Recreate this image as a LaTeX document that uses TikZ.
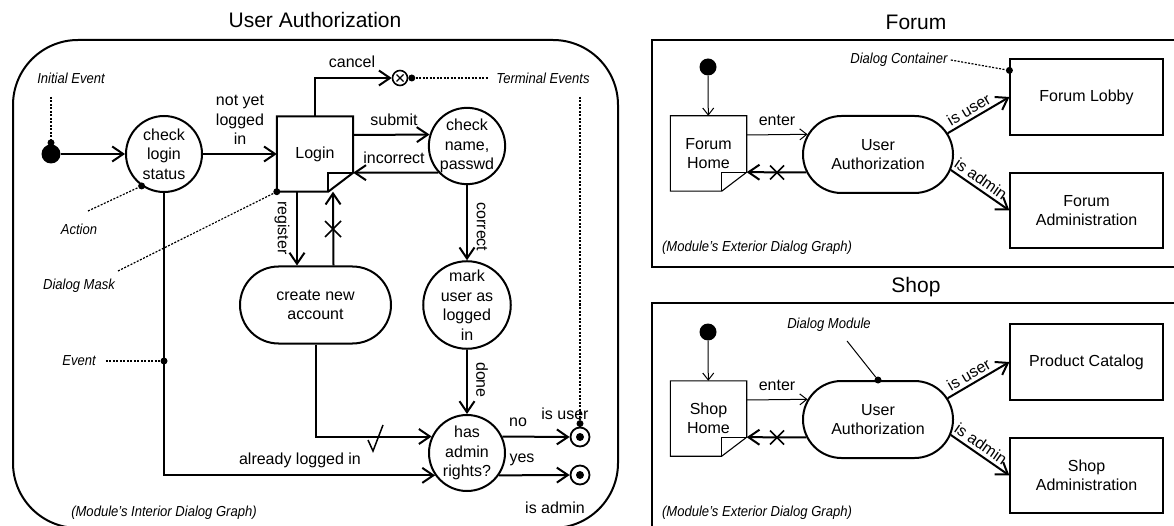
\documentclass[tikz,border=0pt]{standalone}
\usepackage{fontspec}
\usepackage{graphicx}
\setmainfont{Liberation Sans}
\usetikzlibrary{arrows.meta,shapes.misc,calc}
\newcommand\drawmask[2]{%
  \draw[line width=#1] (#2.north west) -- (#2.north east) -- ([yshift=19pt]#2.south east) -- ([xshift=-25pt]#2.south east) -- (#2.south west) -- cycle;
  \draw[line width=#1] ([xshift=-25pt]#2.south east) -- ([xshift=-25pt,yshift=19pt]#2.south east) -- ([yshift=19pt]#2.south east);}
\newcommand\xcross[2]{\draw[line width=1.5pt] ([shift={(-#2,-#2)}]#1) -- ([shift={(#2,#2)}]#1) ([shift={(-#2,#2)}]#1) -- ([shift={(#2,-#2)}]#1);}
\newcommand\nar[1]{\scalebox{0.9}[1]{#1}}
\begin{document}
\begin{tikzpicture}[x=1pt,y=-1pt,
  base/.style={font=\fontsize{16}{19.5}\selectfont, align=center},
  state/.style={circle, draw, line width=2pt, minimum size=76pt, inner sep=0pt, base},
  stadium/.style={rounded rectangle, draw, line width=2pt, minimum width=#1, minimum height=77pt, inner sep=0pt, base},
  maskbox/.style={minimum width=76pt, minimum height=75pt, inner sep=0pt, base},
  box/.style={draw, line width=1.2pt, minimum width=153pt, minimum height=76pt, inner sep=0pt, base},
  initdot/.style={circle, fill, minimum size=#1, inner sep=0pt},
  initdot/.default=19pt,
  adot/.style={circle, fill, minimum size=7pt, inner sep=0pt},
  endst/.style={circle, draw, line width=1.8pt, minimum size=19pt, inner sep=0pt,
    path picture={\fill (path picture bounding box.center) circle[radius=4pt];}},
  xst/.style={circle, draw, line width=1.6pt, minimum size=15pt, inner sep=0pt,
    path picture={\draw[line width=1.3pt] ([shift={(-3.5pt,-3.5pt)}]path picture bounding box.center) -- ([shift={(3.5pt,3.5pt)}]path picture bounding box.center) ([shift={(-3.5pt,3.5pt)}]path picture bounding box.center) -- ([shift={(3.5pt,-3.5pt)}]path picture bounding box.center);}},
  lbl/.style={font=\fontsize{14.5}{16}\selectfont\itshape, inner sep=0pt},
  elbl/.style={font=\fontsize{16}{19.5}\selectfont, inner sep=0pt, align=center},
  ttl/.style={font=\fontsize{21}{25}\selectfont, inner sep=0pt},
  arr/.style={line width=2pt, -{Straight Barb[length=11pt,width=15pt]}},
  tarr/.style={line width=1pt, -{Straight Barb[length=7pt,width=11pt]}},
  annot/.style={line width=1.2pt, dash pattern=on 2pt off 1.5pt},
]
\useasboundingbox (0,0) rectangle (1174,526);
% ================= LEFT: User Authorization =================
\node[ttl] (t1) at (315,20) {User Authorization};
\node[draw, line width=2pt, rounded corners=65pt, minimum width=605pt, minimum height=488pt, inner sep=0pt] (uac) at (315.5,284) {};

\node[initdot] (init) at (51,154) {};
\node[state] (cls) at (164,154) {check\\login\\status};
\node[maskbox] (login) at (315,154) {Login};
\drawmask{2pt}{login}
\node[state] (cn) at (467,146) {check\\name,\\passwd};
\node[stadium=151pt] (cna) at (315.5,305) {create new\\account};
\node[state] (mu) at (467,305) {mark\\user as\\logged\\in};
\node[state] (har) at (467,453) {has\\admin\\rights?};
\node[endst] (eu) at (580,437) {};
\node[endst] (ea) at (580,475) {};
\node[xst] (xc) at (400,78) {};

\draw[arr] (init) -- (cls);
\draw[arr] (cls) -- (login);
\node[elbl] at (240,120) {not yet\\logged\\in};
\draw[arr] (login.north) |- (xc.west);
\node[elbl] at (352,62) {cancel};
\draw[arr] ([yshift=19pt]login.east) -- (cn.163);
\node[elbl] at (394,120) {submit};
\draw[arr] (cn.223) -- ([yshift=19pt]login.south east);
\node[elbl] at (394,158) {incorrect};
\draw[arr] ([xshift=-18pt]login.south) -- ([xshift=-18pt]login.south |- cna.north);
\node[elbl, rotate=-90] at (282,228) {register};
\draw[arr] ([xshift=18pt]cna.north) -- ([xshift=18pt]login.south);
\coordinate (x1) at (333,229);
\xcross{x1}{8pt}
\draw[arr] (cn.south) -- (mu.north);
\node[elbl, rotate=-90] at (482,227) {correct};
\draw[arr] (mu.south) -- (har.north);
\node[elbl, rotate=-90] at (482,380) {done};
\draw[arr] (cna.south) |- (har.155);
\draw[line width=1.5pt] (368,440) -- (373,451) -- (383,425);
\draw[arr] (cls.south) |- (har.215);
\node[elbl] at (300,460) {already logged in};
\draw[arr] (har.25) -- (eu.west);
\node[elbl] at (518,422) {no};
\draw[arr] (har.-35) -- (ea.west);
\node[elbl] at (522,460) {yes};
\node[elbl] at (565,414) {is user};
\node[elbl] at (555,508) {is admin};

% annotations
\node[lbl] (iel) at (71,78) {\nar{Initial Event}};
\coordinate (ies) at (51,97);
\node[adot] (ied) at ([yshift=1.5pt]init.north) {};
\draw[annot] (ies) -- (ied);
\node[lbl] (actl) at (79,229) {\nar{Action}};
\coordinate (acs) at (88,211);
\node[adot] (acd) at (cls.235.5) {};
\draw[annot] (acs) -- (acd);
\node[lbl] (dml) at (79,286) {\nar{Dialog Mask}};
\coordinate (dms) at (118,271);
\node[adot] (dmd) at (login.south west) {};
\draw[annot] (dms) -- (dmd);
\node[lbl] (evl) at (79,361) {\nar{Event}};
\node[adot] (evd) at (cls.south |- 0,361) {};
\draw[annot] ([xshift=10pt]evl.east) -- (evd);
\node[lbl] (tel) at (543,78) {\nar{Terminal Events}};
\node[adot] (ted) at ([xshift=3.5pt]xc.east) {};
\draw[annot] (ted) -- ([xshift=-8pt]tel.west);
\coordinate (tes) at (580,97);
\node[adot] (eud) at ([yshift=3pt]eu.north) {};
\draw[annot] (tes) -- (eud);
\node[lbl] at (164,513) {\nar{(Module’s Interior Dialog Graph)}};

% ================= RIGHT TOP: Forum =================
\node[ttl] (t2) at (916,22) {Forum};
\draw[line width=1.3pt] (652,40) rectangle (1190,267);
\node[initdot=17pt] (fi) at (708,67) {};
\node[maskbox] (fh) at (708.5,153.5) {Forum\\Home};
\drawmask{1.1pt}{fh}
\node[stadium=150pt] (ua) at (878,154.5) {User\\Authorization};
\node[box] (fl) at (1086.5,97) {Forum Lobby};
\node[box, minimum height=75pt] (fa) at (1086.5,210.5) {Forum\\Administration};
\draw[tarr] (fi) -- (fh);
\draw[tarr] ([yshift=18.5pt]fh.east) -- (ua.164.4);
\node[elbl] at (777,120) {enter};
\draw[arr] (ua.194.3) -- ([yshift=19pt]fh.south east);
\coordinate (x2) at (777,172.5);
\xcross{x2}{7pt}
\draw[arr] (ua.17) -- node[elbl, pos=0.42, above=3pt, sloped] {is user} (fl.west);
\draw[arr] (ua.-12) -- node[elbl, pos=0.42, above=3pt, sloped] {is admin} (fa.west);
\node[lbl] (dcl) at (899,60) {\nar{Dialog Container}};
\node[adot] (dcd) at ([yshift=-12pt]fl.north west) {};
\draw[annot] ([xshift=3pt]dcl.east) -- (dcd);
\node[lbl] at (757,248) {\nar{(Module’s Exterior Dialog Graph)}};

% ================= RIGHT BOTTOM: Shop =================
\node[ttl] (t3) at (916,287) {Shop};
\draw[line width=1.3pt] (652,303) rectangle (1190,540);
\node[initdot=17pt] (si) at (708,332) {};
\node[maskbox] (sh) at (708.5,418.5) {Shop\\Home};
\drawmask{1.1pt}{sh}
\node[stadium=150pt] (ua2) at (878,419.5) {User\\Authorization};
\node[box] (pc) at (1086.5,362) {Product Catalog};
\node[box, minimum height=75pt] (sa) at (1086.5,475.5) {Shop\\Administration};
\draw[tarr] (si) -- (sh);
\draw[tarr] ([yshift=18.5pt]sh.east) -- (ua2.164.4);
\node[elbl] at (777,385) {enter};
\draw[arr] (ua2.194.3) -- ([yshift=19pt]sh.south east);
\coordinate (x3) at (777,437.5);
\xcross{x3}{7pt}
\draw[arr] (ua2.17) -- node[elbl, pos=0.42, above=3pt, sloped] {is user} (pc.west);
\draw[arr] (ua2.-12) -- node[elbl, pos=0.42, above=3pt, sloped] {is admin} (sa.west);
\node[lbl] (dmod) at (829,325) {\nar{Dialog Module}};
\node[adot] (dmodd) at (ua2.north) {};
\draw[line width=1pt] ([shift={(18pt,-9pt)}]dmod.south) -- (dmodd);
\node[lbl] at (757,513) {\nar{(Module’s Exterior Dialog Graph)}};
\end{tikzpicture}
\end{document}
